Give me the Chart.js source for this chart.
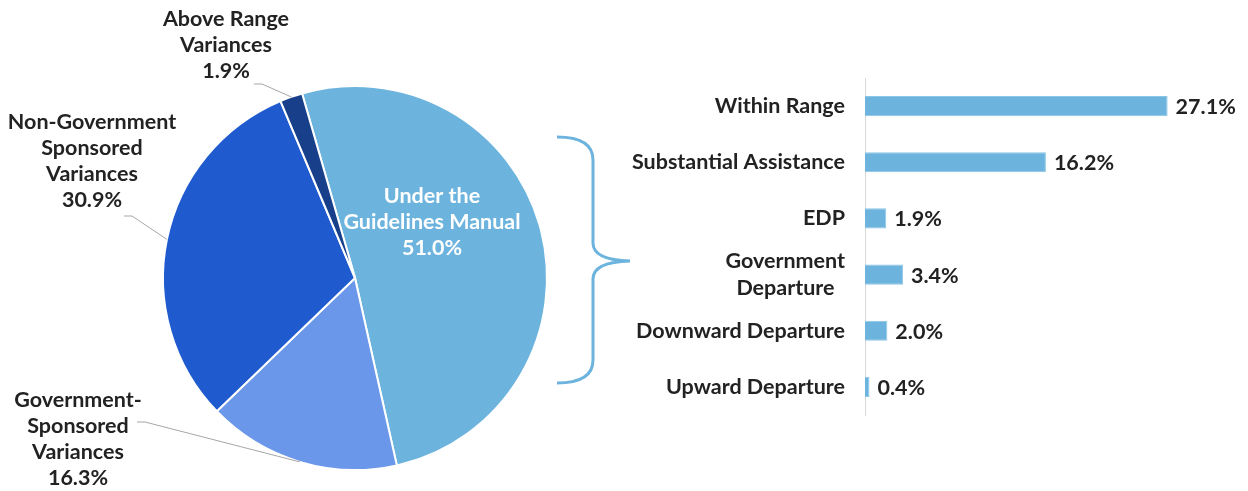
<!DOCTYPE html>
<html>
<head>
<meta charset="utf-8">
<script src="https://cdn.jsdelivr.net/npm/chart.js@4"></script>
<style>
  body { margin: 0; background: #fff; }
  #wrap { position: relative; width: 1248px; height: 491px; }
  canvas { position: absolute; left: 0; top: 0; }
</style>
</head>
<body>
<div id="wrap">
  <canvas id="pie" width="1248" height="491"></canvas>
  <canvas id="bars" width="1248" height="491"></canvas>
</div>
<script>
// pie: how sentences relate to the guideline range
const pieLabels = ['Under the Guidelines Manual', 'Government-Sponsored Variances', 'Non-Government Sponsored Variances', 'Above Range Variances']
const pieValues = [51.0, 16.3, 30.9, 1.9]
const pieColors = ['#6cb4de', '#6a97e9', '#1f5bcf', '#173f8a']

// bar: breakdown of the "under the guidelines" slice
const barLabels = ['Within Range', 'Substantial Assistance', 'EDP', ['Government', 'Departure  '], 'Downward Departure', 'Upward Departure']
const barValues = [27.1, 16.2, 1.9, 3.4, 2.0, 0.4]

const FONT = 'Lato, "Open Sans", sans-serif'
const TEXT = '#222'
const SIZE = 21.5

// text lines and where they sit for each slice
const sliceText = [
  { lines: ['Under the', 'Guidelines Manual'], x: 432, y: 196, color: '#fff', inside: true },
  { lines: ['Government-', 'Sponsored', 'Variances'], x: 78, y: 400, elbow: [145, 422] },
  { lines: ['Non-Government', 'Sponsored', 'Variances'], x: 92, y: 122, elbow: [132, 216] },
  { lines: ['Above Range', 'Variances'], x: 226, y: 19, elbow: [262, 84] },
]

const pieLabelPlugin = {
  id: 'pieLabels',
  afterDraw(chart) {
    const ctx = chart.ctx
    const arcs = chart.getDatasetMeta(0).data
    ctx.save()
    ctx.font = 'bold ' + SIZE + 'px ' + FONT
    ctx.textAlign = 'center'
    ctx.textBaseline = 'middle'
    arcs.forEach((arc, i) => {
      const t = sliceText[i]
      const lines = t.lines.concat(pieValues[i].toFixed(1) + '%')
      if (!t.inside) {
        const mid = (arc.startAngle + arc.endAngle) / 2
        const ax = arc.x + Math.cos(mid) * arc.outerRadius
        const ay = arc.y + Math.sin(mid) * arc.outerRadius
        ctx.strokeStyle = '#a6a6a6'
        ctx.lineWidth = 1
        ctx.beginPath()
        ctx.moveTo(t.elbow[0] - 8, t.elbow[1])
        ctx.lineTo(t.elbow[0], t.elbow[1])
        ctx.lineTo(ax, ay)
        ctx.stroke()
      }
      ctx.fillStyle = t.color || TEXT
      lines.forEach((s, k) => ctx.fillText(s, t.x, t.y + k * 26))
    })

    // brace pointing at the bar chart
    ctx.strokeStyle = '#6cb4de'
    ctx.lineWidth = 3
    ctx.beginPath()
    ctx.moveTo(557, 137)
    ctx.quadraticCurveTo(593, 137, 593, 160)
    ctx.lineTo(593, 243)
    ctx.quadraticCurveTo(593, 260, 630, 261)
    ctx.quadraticCurveTo(593, 262, 593, 279)
    ctx.lineTo(593, 360)
    ctx.quadraticCurveTo(593, 383, 557, 383)
    ctx.stroke()
    ctx.restore()
  }
}

new Chart(document.getElementById('pie'), {
  type: 'pie',
  data: {
    labels: pieLabels,
    datasets: [{
      data: pieValues,
      backgroundColor: pieColors,
      borderColor: '#fff',
      borderWidth: 2,
    }]
  },
  options: {
    responsive: false,
    animation: false,
    rotation: -16,
    layout: { padding: { left: 162, right: 700, top: 85, bottom: 20 } },
    plugins: { legend: { display: false }, tooltip: { enabled: false } }
  },
  plugins: [pieLabelPlugin]
})

const valueLabelPlugin = {
  id: 'valueLabels',
  afterDatasetsDraw(chart) {
    const ctx = chart.ctx
    ctx.save()
    ctx.font = 'bold ' + SIZE + 'px ' + FONT
    ctx.fillStyle = TEXT
    ctx.textAlign = 'left'
    ctx.textBaseline = 'middle'
    chart.getDatasetMeta(0).data.forEach((bar, i) => {
      ctx.fillText(barValues[i].toFixed(1) + '%', bar.x + 8, bar.y + 1)
    })
    ctx.restore()
  }
}

new Chart(document.getElementById('bars'), {
  type: 'bar',
  data: {
    labels: barLabels,
    datasets: [{
      data: barValues,
      backgroundColor: '#6cb4de',
      borderColor: '#8cc6e6',
      borderWidth: 1,
      barPercentage: 0.36,
      categoryPercentage: 1,
    }]
  },
  options: {
    indexAxis: 'y',
    responsive: false,
    animation: false,
    layout: { padding: { left: 600, right: 48, top: 78, bottom: 76 } },
    scales: {
      x: { display: false, min: 0, max: 30 },
      y: {
        afterFit(scale) { scale.width = 265 },
        grid: { display: false, drawTicks: false },
        border: { display: true, color: '#d9d9d9', width: 1 },
        ticks: {
          padding: 20,
          color: TEXT,
          font: { family: FONT, size: SIZE, weight: 'bold', lineHeight: 1.22 },
        }
      }
    },
    plugins: { legend: { display: false }, tooltip: { enabled: false } }
  },
  plugins: [valueLabelPlugin]
})
</script>
</body>
</html>
